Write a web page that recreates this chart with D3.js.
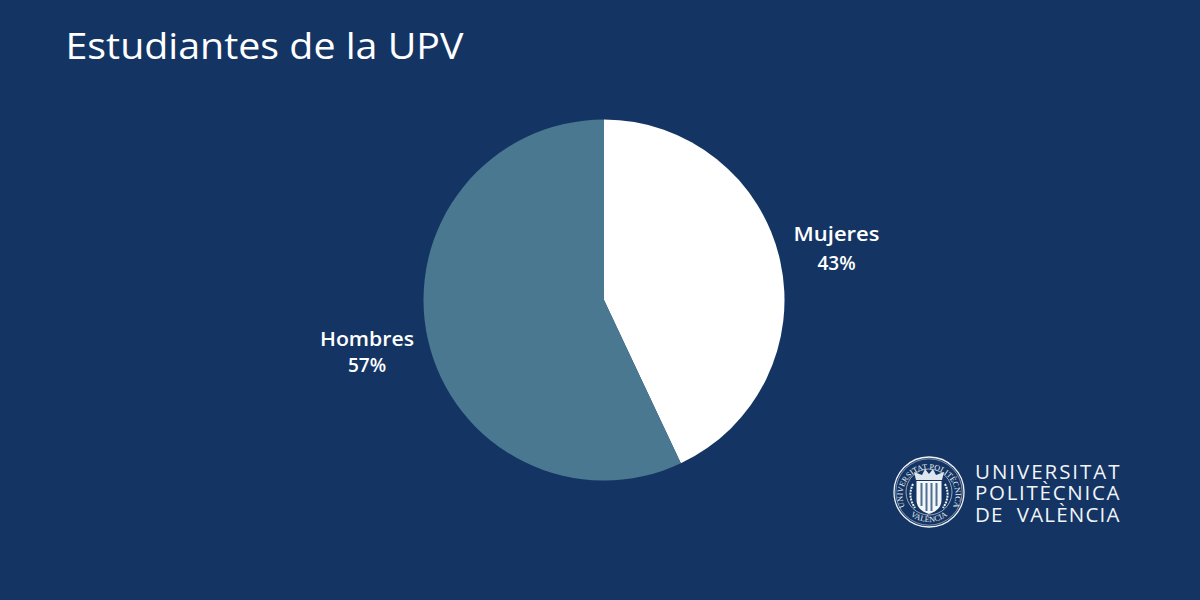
<!DOCTYPE html>
<html><head><meta charset="utf-8">
<script src="https://cdn.jsdelivr.net/npm/d3@7"></script>
<style>html,body{margin:0;padding:0;background:#143564;overflow:hidden}svg{display:block}text{font-family:"Open Sans",sans-serif}</style>
</head><body><svg id="c" width="1200" height="600"></svg>
<script>
const title = "Estudiantes de la UPV";
const categories = ["Mujeres", "Hombres"];
const values = [43, 57];
const colors = ["#ffffff", "#4a7891"];
const logoLines = ["UNIVERSITAT", "POLITÈCNICA", "DE  VALÈNCIA"];
const svg = d3.select("#c");
svg.append("rect").attr("width",1200).attr("height",600).attr("fill","#143564");
svg.append("text").attr("x",65.5).attr("y",59).attr("font-size",37).attr("fill","#fff")
  .attr("textLength",398).attr("lengthAdjust","spacingAndGlyphs").text(title);
const r = 180.5;
const pie = d3.pie().sort(null).value(d=>d)(values);
const arc = d3.arc().innerRadius(0).outerRadius(r);
const g = svg.append("g").attr("transform","translate(604,300)");
g.selectAll("path").data(pie).join("path").attr("d",arc).attr("fill",(d,i)=>colors[i]);
const labelPos = [[836.5,241,270],[367,346,372]];
categories.forEach((c,i)=>{
  const [x,y,y2]=labelPos[i];
  svg.append("text").attr("x",x).attr("y",y).attr("text-anchor","middle").attr("font-size",20).attr("font-weight",600).attr("fill","#fff")
    .attr("textLength",i?94:86).attr("lengthAdjust","spacingAndGlyphs").text(c);
  svg.append("text").attr("x",x).attr("y",y2).attr("text-anchor","middle").attr("font-size",19).attr("font-weight",600).attr("fill","#fff")
    .text(values[i]+"%");
});
// logo seal
const lg = svg.append("g").attr("transform","translate(929,492)");
const st="#eef1f5";
lg.append("circle").attr("r",35).attr("fill","none").attr("stroke",st).attr("stroke-width",1.3);
lg.append("circle").attr("r",33.2).attr("fill","none").attr("stroke",st).attr("stroke-width",.5);
lg.append("circle").attr("r",23).attr("fill","none").attr("stroke",st).attr("stroke-width",.6);
lg.append("path").attr("id","arcT").attr("fill","none").attr("d","M-24,15 A26.5,26.5 0 1 1 24,15");
lg.append("path").attr("id","arcB").attr("fill","none").attr("d","M-18,24 A30,30 0 0 0 18,24");
lg.append("text").attr("font-size",8).attr("fill",st).style("font-family","Liberation Serif")
  .append("textPath").attr("href","#arcT").attr("startOffset","50%").attr("text-anchor","middle").text("UNIVERSITAT POLITÈCNICA");
lg.append("text").attr("font-size",8).attr("fill",st).style("font-family","Liberation Serif")
  .append("textPath").attr("href","#arcB").attr("startOffset","50%").attr("text-anchor","middle").text("VALÈNCIA");
lg.append("path").attr("d","M-12.5,-11 L12.5,-11 L12.5,8 Q12.5,18 0,22 Q-12.5,18 -12.5,8 Z").attr("fill","#f4f6f8");
[-7.5,-2.5,2.5,7.5].forEach(x=>lg.append("line").attr("x1",x).attr("x2",x).attr("y1",-9).attr("y2",Math.abs(x)>5?14:19).attr("stroke","#4f6f95").attr("stroke-width",2));
lg.append("path").attr("d","M-13,-12 L-15,-20 L-7,-17 L-4,-23 L0,-18 L4,-23 L7,-17 L15,-20 L13,-12 Z").attr("fill","#dfe6ee");
lg.append("path").attr("d","M-16,-8 Q-22,4 -14,16 M16,-8 Q22,4 14,16").attr("fill","none").attr("stroke",st).attr("stroke-width",2).attr("stroke-dasharray","2 1");
const logoX=[975,975,975], logoY=[478.5,500,521.5];
logoLines.forEach((t,i)=>{
  svg.append("text").attr("x",logoX[i]).attr("y",logoY[i]).attr("font-size",20.5).attr("font-weight",400).attr("fill","#f2f4f7")
   .attr("textLength",144.5).attr("lengthAdjust","spacing").style("white-space","pre").text(t);
});
</script></body></html>
